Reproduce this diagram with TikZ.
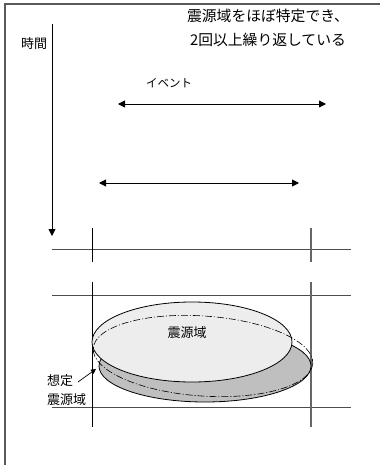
\documentclass[tikz,border=0pt]{standalone}
\usepackage{fontspec}
\setmainfont{Noto Sans CJK JP}
\usetikzlibrary{arrows.meta}

\begin{document}
\begin{tikzpicture}[x=1pt, y=-1pt]
  \useasboundingbox (0,0) rectangle (380,465);

  % Rahmen.
  \draw[gray!70!black, line width=1.2pt] (5,465) -- (5,4) -- (380,4);

  % Text.
  \tikzstyle{label}=[inner sep=0pt, font=\fontsize{13}{15}\selectfont]
  \node[label, align=center, font=\fontsize{14.8}{24}\selectfont] (title) at (268,28)
    {震源域をほぼ特定でき、\\2回以上繰り返している};
  \node[label] (zeit) at (34,44) {時間};
  \node[label, font=\fontsize{11.5}{13}\selectfont] (event) at (169,83) {イベント};

  % Zeitachse.
  \tikzstyle{pfeil}=[line width=0.9pt, -{Triangle[length=7pt, width=7pt]}]
  \coordinate (t0) at (52,24);
  \coordinate (t1) at (52,236);
  \draw[pfeil] (t0) -- (t1);

  % Ereignisse.
  \coordinate (a0) at (118,104);
  \coordinate (a1) at (326,104);
  \coordinate (b0) at (99,183);
  \coordinate (b1) at (299,183);
  \draw[pfeil, {Triangle[length=7pt, width=7pt]}-{Triangle[length=7pt, width=7pt]}] (a0) -- (a1);
  \draw[pfeil, {Triangle[length=7pt, width=7pt]}-{Triangle[length=7pt, width=7pt]}] (b0) -- (b1);

  % Raster.
  \tikzstyle{linie}=[gray!60!black, line width=0.9pt]
  \draw[linie] (52,249) -- (351,249);
  \draw[linie] (52,295) -- (351,295);
  \draw[linie] (52,407) -- (351,407);
  \draw[line width=0.9pt] (92,228) -- (92,262);
  \draw[line width=0.9pt] (92,282) -- (92,427);
  \draw[gray!80!black, line width=1.1pt] (311,228) -- (311,262);
  \draw[gray!80!black, line width=1.1pt] (311,282) -- (311,427);

  % Ellipsen.
  \draw[fill=black!25, line width=0.8pt] (205,366) ellipse [x radius=106, y radius=36];
  \draw[fill=black!7, line width=0.8pt] (192,342) ellipse [x radius=100, y radius=40];
  \draw[line width=0.6pt, dash pattern=on 7pt off 2pt on 1pt off 2pt]
    (203,356) ellipse [x radius=110, y radius=40, rotate=-4];
  \node[label] (quelle) at (187,333) {震源域};

  % Annahme.
  \node[label, align=left, anchor=west, font=\fontsize{13}{19}\selectfont] (annahme) at (47,390)
    {想定\\震源域};
  \coordinate (ziel) at (96,369);
  \draw[line width=0.7pt, -{Triangle[length=5pt, width=5pt]}] (78,382) -- (ziel);
\end{tikzpicture}
\end{document}
